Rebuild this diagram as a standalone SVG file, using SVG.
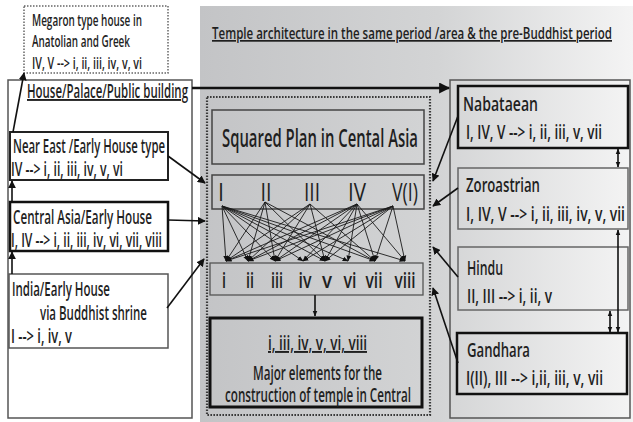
<svg xmlns="http://www.w3.org/2000/svg" width="633" height="422" viewBox="0 0 633 422">
<defs>
<linearGradient id="bg" x1="0" y1="0" x2="1" y2="0">
<stop offset="0" stop-color="#c3c4c6"/>
<stop offset="0.55" stop-color="#d3d4d5"/>
<stop offset="1" stop-color="#f4f4f4"/>
</linearGradient>
<marker id="ah" viewBox="0 0 10 10" refX="9" refY="5" markerWidth="8" markerHeight="8" markerUnits="userSpaceOnUse" orient="auto-start-reverse">
<path d="M0,0 L10,5 L0,10 z" fill="#111"/>
</marker>
<marker id="as" viewBox="0 0 10 10" refX="9" refY="5" markerWidth="6" markerHeight="6" markerUnits="userSpaceOnUse" orient="auto-start-reverse">
<path d="M0,1 L10,5 L0,9 z" fill="#111"/>
</marker>
<marker id="ab" viewBox="0 0 10 10" refX="9" refY="5" markerWidth="11" markerHeight="11" markerUnits="userSpaceOnUse" orient="auto">
<path d="M0,0 L10,5 L0,10 z" fill="#111"/>
</marker>
</defs>
<style>
text{font-family:"Open Sans","Liberation Sans",sans-serif;font-weight:600;fill:#1f1f1f;}
.t16{font-size:17px;}
.t18{font-size:19px;}
.t20{font-size:21px;}
.t24{font-size:26px;font-weight:500;}
.sq{font-size:26px;font-weight:600;}
.u{text-decoration:underline;}
.c{text-anchor:middle;}
.wbox{fill:#fff;}
.gbox{fill:none;}
.con{fill:none;stroke:#111;stroke-width:1.6;}
.thin{fill:none;stroke:#1a1a1a;stroke-width:0.9;}
</style>

<rect x="200" y="6" width="433" height="416" fill="url(#bg)"/>

<g id="title">
<text class="t16 u" x="212" y="39" textLength="400" lengthAdjust="spacingAndGlyphs">Temple architecture in the same period /area &amp; the pre-Buddhist period</text>
</g>

<g id="megaron">
<rect x="24" y="6" width="144" height="67" fill="#fff" stroke="#666" stroke-width="1.5" stroke-dasharray="1.5 1.5"/>
<text class="t16" x="32" y="26" textLength="110" lengthAdjust="spacingAndGlyphs">Megaron type house in</text>
<text class="t16" x="32" y="47" textLength="98" lengthAdjust="spacingAndGlyphs">Anatolian and Greek</text>
<text class="t16" x="32" y="69" textLength="110" lengthAdjust="spacingAndGlyphs">IV, V --&gt; i, ii, iii, iv, v, vi</text>
</g>

<g id="house-group">
<rect x="8" y="80" width="184" height="338" class="wbox" stroke="#555" stroke-width="1.5"/>
<text class="t18 u" x="27" y="98" textLength="161" lengthAdjust="spacingAndGlyphs">House/Palace/Public building</text>
</g>

<g id="near-east">
<rect x="10" y="132" width="158" height="48" class="wbox" stroke="#222" stroke-width="2"/>
<text class="t18" x="13" y="153" textLength="152" lengthAdjust="spacingAndGlyphs">Near East /Early House type</text>
<text class="t18" x="11" y="176" textLength="112" lengthAdjust="spacingAndGlyphs">IV --&gt; i, ii, iii, iv, v, vi</text>
</g>

<g id="central-asia">
<rect x="10" y="202" width="158" height="49" class="wbox" stroke="#111" stroke-width="2.5"/>
<text class="t18" x="13" y="224" textLength="139" lengthAdjust="spacingAndGlyphs">Central Asia/Early House</text>
<text class="t18" x="11" y="247" textLength="151" lengthAdjust="spacingAndGlyphs">I, IV --&gt; i, ii, iii, iv, vi, vii, viii</text>
</g>

<g id="india">
<rect x="9" y="274" width="159" height="74" class="wbox" stroke="#555" stroke-width="1.5"/>
<text class="t18" x="12" y="296" textLength="98" lengthAdjust="spacingAndGlyphs">India/Early House</text>
<text class="t18" x="40" y="320" textLength="107" lengthAdjust="spacingAndGlyphs">via Buddhist shrine</text>
<text class="t18" x="11" y="343" textLength="61" lengthAdjust="spacingAndGlyphs">I --&gt; i, iv, v</text>
</g>

<g id="central-frame">
<rect x="207" y="97" width="223" height="318" fill="none" stroke="#3a3a3a" stroke-width="2.2" stroke-dasharray="1.6 1.4"/>
</g>

<g id="squared-plan">
<rect x="212" y="110" width="212" height="54" class="gbox" stroke="#444" stroke-width="1.5"/>
<text class="sq" x="222" y="147" textLength="196" lengthAdjust="spacingAndGlyphs">Squared Plan in Cental Asia</text>
</g>

<g id="numerals">
<rect x="212" y="175" width="212" height="34" class="gbox" stroke="#444" stroke-width="1.5"/>
<text class="t24 c" x="221" y="201" textLength="6" lengthAdjust="spacingAndGlyphs">I</text>
<text class="t24 c" x="266" y="201" textLength="11" lengthAdjust="spacingAndGlyphs">II</text>
<text class="t24 c" x="312" y="201" textLength="16" lengthAdjust="spacingAndGlyphs">III</text>
<text class="t24 c" x="357" y="201" textLength="18" lengthAdjust="spacingAndGlyphs">IV</text>
<text class="t24 c" x="405" y="201" textLength="26" lengthAdjust="spacingAndGlyphs">V(I)</text>
</g>

<g id="elements">
<rect x="210" y="263" width="213" height="32" class="gbox" stroke="#555" stroke-width="1.3"/>
<text class="t20 c" x="224" y="288" textLength="4" lengthAdjust="spacingAndGlyphs">i</text>
<text class="t20 c" x="250" y="288" textLength="8" lengthAdjust="spacingAndGlyphs">ii</text>
<text class="t20 c" x="277" y="288" textLength="12" lengthAdjust="spacingAndGlyphs">iii</text>
<text class="t20 c" x="305" y="288" textLength="13" lengthAdjust="spacingAndGlyphs">iv</text>
<text class="t20 c" x="327" y="288" textLength="10" lengthAdjust="spacingAndGlyphs">v</text>
<text class="t20 c" x="350" y="288" textLength="13" lengthAdjust="spacingAndGlyphs">vi</text>
<text class="t20 c" x="374" y="288" textLength="17" lengthAdjust="spacingAndGlyphs">vii</text>
<text class="t20 c" x="405" y="288" textLength="21" lengthAdjust="spacingAndGlyphs">viii</text>
</g>

<g id="major">
<rect x="210" y="318" width="212" height="89" class="gbox" stroke="#111" stroke-width="3"/>
<text class="t18 u" x="268" y="350" textLength="99" lengthAdjust="spacingAndGlyphs">i, iii, iv, v, vi, viii</text>
<text class="t18" x="253" y="380" textLength="129" lengthAdjust="spacingAndGlyphs">Major elements for the</text>
<text class="t18" x="225" y="402" textLength="186" lengthAdjust="spacingAndGlyphs">construction of temple in Central</text>
</g>

<g id="temple-group">
<rect x="450" y="80" width="180" height="338" fill="none" stroke="#555" stroke-width="1.5"/>
</g>

<g id="nabataean">
<rect x="458" y="86" width="170" height="62" fill="none" stroke="#111" stroke-width="2.5"/>
<text class="t18" x="463" y="111" textLength="75" lengthAdjust="spacingAndGlyphs">Nabataean</text>
<text class="t18" x="466" y="139" textLength="136" lengthAdjust="spacingAndGlyphs">I, IV, V --&gt; i, ii, iii, v, vii</text>
</g>

<g id="zoroastrian">
<rect x="458" y="168" width="170" height="61" fill="none" stroke="#666" stroke-width="1.5"/>
<text class="t18" x="466" y="192" textLength="74" lengthAdjust="spacingAndGlyphs">Zoroastrian</text>
<text class="t18" x="466" y="221" textLength="159" lengthAdjust="spacingAndGlyphs">I, IV, V --&gt; i,  ii, iii, iv, v, vii</text>
</g>

<g id="hindu">
<rect x="458" y="247" width="170" height="63" fill="none" stroke="#666" stroke-width="1.5"/>
<text class="t18" x="467" y="275" textLength="36" lengthAdjust="spacingAndGlyphs">Hindu</text>
<text class="t18" x="467" y="303" textLength="85" lengthAdjust="spacingAndGlyphs">II, III --&gt; i,  ii, v</text>
</g>

<g id="gandhara">
<rect x="457" y="333" width="170" height="61" fill="none" stroke="#111" stroke-width="2.5"/>
<text class="t18" x="467" y="357" textLength="63" lengthAdjust="spacingAndGlyphs">Gandhara</text>
<text class="t18" x="466" y="385" textLength="137" lengthAdjust="spacingAndGlyphs">I(II), III --&gt; i,ii, iii, v, vii</text>
</g>

<g id="connectors">
<line x1="192" y1="88" x2="449" y2="88" stroke="#111" stroke-width="2.5" marker-end="url(#ab)"/>
<line class="con" x1="13" y1="132" x2="24" y2="73" marker-end="url(#ah)"/>
<line class="con" x1="12" y1="202" x2="12" y2="181" marker-end="url(#ah)"/>
<line class="con" x1="12" y1="274" x2="12" y2="252" marker-end="url(#ah)"/>
<line class="con" x1="168" y1="156" x2="205" y2="183" marker-end="url(#ah)"/>
<line class="con" x1="168" y1="220" x2="205" y2="221" marker-end="url(#ah)"/>
<line class="con" x1="167" y1="308" x2="204" y2="259" marker-end="url(#ah)"/>
<line class="con" x1="458" y1="116" x2="433" y2="181" marker-end="url(#ah)"/>
<line class="con" x1="458" y1="188" x2="433" y2="206" marker-end="url(#ah)"/>
<line class="con" x1="458" y1="277" x2="433" y2="247" marker-end="url(#ah)"/>
<line class="con" x1="458" y1="363" x2="433" y2="288" marker-end="url(#ah)"/>
<line class="con" x1="618" y1="149" x2="618" y2="167" marker-start="url(#as)" marker-end="url(#as)"/>
<line class="con" x1="618" y1="230" x2="618" y2="332" marker-start="url(#as)" marker-end="url(#as)"/>
<line class="con" x1="610" y1="311" x2="610" y2="332" marker-start="url(#as)" marker-end="url(#as)"/>
<line class="con" x1="315" y1="295" x2="315" y2="316" stroke-width="1.2" marker-end="url(#as)"/>
<g class="thin">
<line x1="222" y1="206" x2="226" y2="261" marker-end="url(#as)"/>
<line x1="222" y1="206" x2="248" y2="261" marker-end="url(#as)"/>
<line x1="222" y1="206" x2="275" y2="261" marker-end="url(#as)"/>
<line x1="222" y1="206" x2="303" y2="261" marker-end="url(#as)"/>
<line x1="222" y1="206" x2="325" y2="261" marker-end="url(#as)"/>
<line x1="222" y1="206" x2="348" y2="261" marker-end="url(#as)"/>
<line x1="222" y1="206" x2="375" y2="261" marker-end="url(#as)"/>
<line x1="222" y1="206" x2="405" y2="261" marker-end="url(#as)"/>
<line x1="265" y1="202" x2="226" y2="261" marker-end="url(#as)"/>
<line x1="265" y1="202" x2="248" y2="261" marker-end="url(#as)"/>
<line x1="265" y1="202" x2="275" y2="261" marker-end="url(#as)"/>
<line x1="265" y1="202" x2="325" y2="261" marker-end="url(#as)"/>
<line x1="265" y1="202" x2="375" y2="261" marker-end="url(#as)"/>
<line x1="310" y1="204" x2="226" y2="261" marker-end="url(#as)"/>
<line x1="310" y1="204" x2="248" y2="261" marker-end="url(#as)"/>
<line x1="310" y1="204" x2="275" y2="261" marker-end="url(#as)"/>
<line x1="310" y1="204" x2="325" y2="261" marker-end="url(#as)"/>
<line x1="310" y1="204" x2="375" y2="261" marker-end="url(#as)"/>
<line x1="357" y1="204" x2="226" y2="261" marker-end="url(#as)"/>
<line x1="357" y1="204" x2="248" y2="261" marker-end="url(#as)"/>
<line x1="357" y1="204" x2="275" y2="261" marker-end="url(#as)"/>
<line x1="357" y1="204" x2="303" y2="261" marker-end="url(#as)"/>
<line x1="357" y1="204" x2="325" y2="261" marker-end="url(#as)"/>
<line x1="357" y1="204" x2="348" y2="261" marker-end="url(#as)"/>
<line x1="357" y1="204" x2="375" y2="261" marker-end="url(#as)"/>
<line x1="357" y1="204" x2="405" y2="261" marker-end="url(#as)"/>
<line x1="393" y1="206" x2="226" y2="261" marker-end="url(#as)"/>
<line x1="393" y1="206" x2="248" y2="261" marker-end="url(#as)"/>
<line x1="393" y1="206" x2="275" y2="261" marker-end="url(#as)"/>
<line x1="393" y1="206" x2="303" y2="261" marker-end="url(#as)"/>
<line x1="393" y1="206" x2="325" y2="261" marker-end="url(#as)"/>
<line x1="393" y1="206" x2="375" y2="261" marker-end="url(#as)"/>
<line x1="393" y1="206" x2="405" y2="261" marker-end="url(#as)"/>
</g>
</g>
</svg>
